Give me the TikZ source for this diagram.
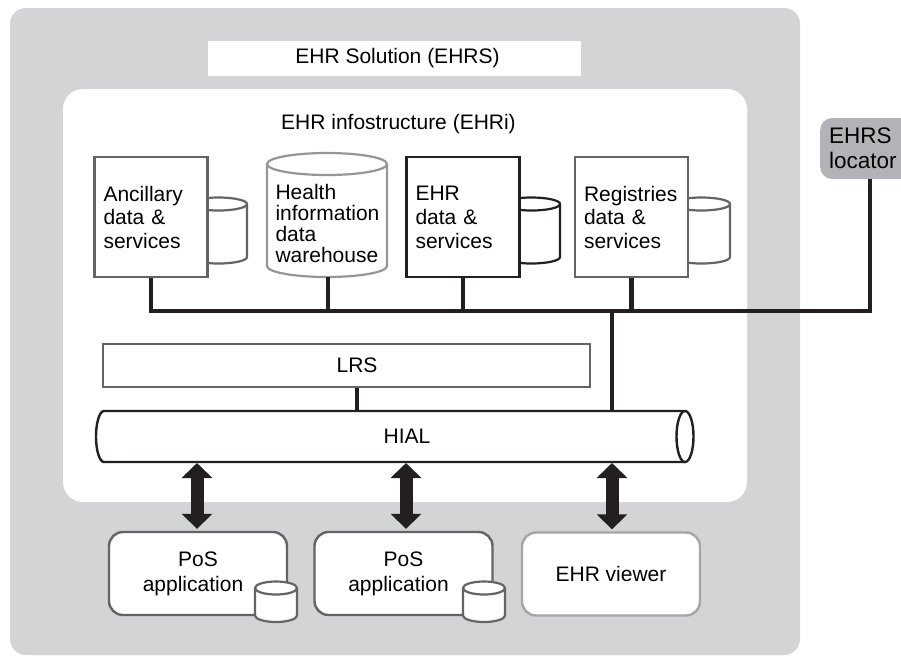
\documentclass[tikz,border=0pt]{standalone}
\usepackage{fontspec}
\setmainfont{Liberation Sans}
\usetikzlibrary{arrows.meta}
\definecolor{outergray}{RGB}{211,212,214}
\definecolor{locgray}{RGB}{178,179,182}
\definecolor{boxgray}{RGB}{100,100,102}
\definecolor{whgray}{RGB}{150,150,152}
\definecolor{viewgray}{RGB}{165,166,168}
\definecolor{ink}{RGB}{35,31,32}
\newcommand{\mycyl}[7]{%
  \draw[cylstyle, draw=#7] (#1,#3) -- (#1,#4)
    arc[start angle=180, end angle=360, x radius=#5pt, y radius=#6pt]
    -- (#2,#3)
    arc[start angle=0, end angle=180, x radius=#5pt, y radius=#6pt] -- cycle;
  \draw[line width=2.2pt, draw=#7] (#1,#3)
    arc[start angle=180, end angle=360, x radius=#5pt, y radius=#6pt];
}
\tikzset{
  cylstyle/.style={line width=2.2pt, fill=white},
  sq/.style={draw, line width=2.2pt, fill=white, minimum width=113pt,
    minimum height=120pt, text width=95pt, inner xsep=9pt, align=left,
    font=\fontsize{21}{23.5}\selectfont},
  busline/.style={line width=4.5pt, draw=ink},
  conn/.style={line width=3.8pt, draw=ink},
  appbox/.style={draw=boxgray, line width=2.4pt, fill=white, rounded corners=14pt,
    minimum width=178pt, minimum height=83pt, align=center,
    font=\fontsize{21}{25}\selectfont},
  dbl/.style={draw=ink, line width=13pt,
    {Triangle[width=30pt,length=15pt]}-{Triangle[width=30pt,length=15pt]}},
  lbl/.style={font=\fontsize{21}{23}\selectfont, inner sep=0pt},
}
\begin{document}
\begin{tikzpicture}[x=1pt,y=-1pt, font=\fontsize{21}{23}\selectfont]
\useasboundingbox (0,0) rectangle (901,659);

% outer EHRS region
\fill[outergray, rounded corners=16pt] (10,8) rectangle (800,655);

% EHRS locator
\node[fill=locgray, rounded corners=12pt, anchor=west, minimum width=100pt,
  minimum height=61pt, text width=82pt, inner xsep=9pt, align=left,
  font=\fontsize{22.5}{25}\selectfont] (loc) at (820,148.5) {EHRS\\locator};

% title
\node[fill=white, minimum width=373pt, minimum height=35pt, inner sep=0pt] (title)
  at (394.5,58.5) {\hspace*{6pt}EHR Solution (EHRS)};

% EHRi region
\node[fill=white, rounded corners=20pt, minimum width=684pt, minimum height=413pt,
  inner sep=0pt] (ehri) at (405,295.5) {};
\node[lbl] (ehrit) at (398.5,124) {EHR infostructure (EHRi)};

% cylinders behind boxes
\mycyl{190}{247}{204}{257}{28.5}{6.5}{boxgray}
\mycyl{503}{560}{204}{257}{28.5}{6.5}{ink}
\mycyl{673}{730}{204}{257}{28.5}{6.5}{boxgray}

% warehouse cylinder
\mycyl{267}{387}{164}{266}{60}{11}{whgray}
\coordinate (whb) at (328,277);
\node[lbl, text width=105pt, align=left, font=\fontsize{21}{21}\selectfont] (wh)
  at (328,223) {Health\\information\\data\\warehouse};

% boxes
\node[sq, draw=boxgray] (anc) at (151,217) {Ancillary\\data \&\\services};
\node[sq, draw=ink, font=\fontsize{21}{24}\selectfont] (ehr) at (463,217) {EHR\\data \&\\services};
\node[sq, draw=boxgray] (reg) at (631.5,217) {Registries\\data \&\\services};

% bus
\coordinate (bus) at (0,311);
\draw[busline, line join=miter] (anc.south) -- (anc.south |- bus) -| (loc.south);
\draw[busline] (whb) -- (whb |- bus);
\draw[busline] (ehr.south) -- (ehr.south |- bus);
\draw[busline] (reg.south) -- (reg.south |- bus);

% LRS
\node[draw=boxgray, line width=2.4pt, fill=white, minimum width=487pt,
  minimum height=43pt, inner sep=0pt] (lrs) at (346.5,365.5) {\hspace*{21pt}LRS};

% HIAL
\coordinate (hialtop) at (0,411);
\coordinate (hialbot) at (0,462);
\draw[line width=2.4pt, draw=ink, fill=white] (685,411) -- (104,411)
  arc[start angle=90, end angle=270, x radius=8pt, y radius=25.5pt] -- (685,462);
\draw[line width=2.4pt, draw=ink, fill=white] (685,436.5) ellipse[x radius=8.5pt, y radius=25.5pt];
\node[lbl] (hial) at (407,436.5) {HIAL};

% connectors to HIAL
\coordinate (hj) at (612,311);
\draw[conn] (hj) -- (hj |- hialtop);
\draw[conn] ([xshift=10.5pt]lrs.south) -- ([xshift=10.5pt]lrs.south |- hialtop);

% applications
\node[appbox] (app1) at (198,573.5) {PoS\\application\hspace*{10pt}};
\node[appbox] (app2) at (403.5,573.5) {PoS\\application\hspace*{10pt}};
\node[appbox, draw=viewgray] (view) at (611,574) {EHR viewer};
\mycyl{255}{297}{588}{615.5}{21}{6.5}{boxgray}
\mycyl{463}{505}{588}{615.5}{21}{6.5}{boxgray}

% arrows
\draw[dbl] ([xshift=-1pt,yshift=-1pt]app1.north |- hialbot) -- ([xshift=-1pt,yshift=2pt]app1.north);
\draw[dbl] ([xshift=2.5pt,yshift=-1pt]app2.north |- hialbot) -- ([xshift=2.5pt,yshift=2pt]app2.north);
\draw[dbl] ([xshift=1pt,yshift=-1pt]view.north |- hialbot) -- ([xshift=1pt,yshift=2pt]view.north);
\end{tikzpicture}
\end{document}
